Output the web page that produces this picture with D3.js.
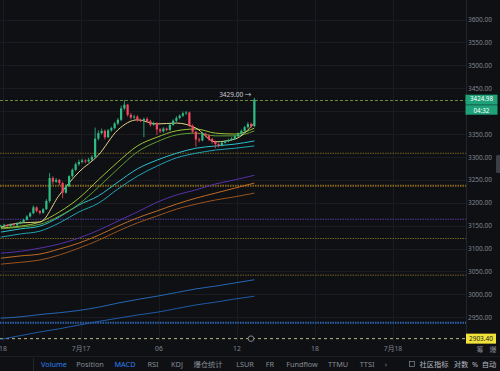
<!DOCTYPE html>
<html>
<head>
<meta charset="utf-8">
<script src="https://cdn.jsdelivr.net/npm/d3@7"></script>
<style>
html, body { margin: 0; padding: 0; background: #0f1014; overflow: hidden; }
text { font-family: "Noto Sans", "Noto Sans CJK SC", sans-serif; }
</style>
</head>
<body>
<svg id="canvas"></svg>
<script>
// 15m candles, first one opens 7/16 17:45
const candleStart = new Date(2025, 6, 16, 17, 45);
const opens = [3148, 3150, 3152, 3149, 3153, 3151, 3155, 3158, 3163, 3170, 3177, 3190, 3182, 3178, 3186, 3204, 3254, 3246, 3250, 3243,
  3222, 3236, 3258, 3272, 3284, 3289, 3292, 3290, 3294, 3300, 3340, 3352, 3357, 3343, 3358, 3363, 3373, 3381, 3406, 3414,
  3392, 3386, 3388, 3381, 3379, 3383, 3378, 3370, 3374, 3360, 3356, 3362, 3359, 3370, 3379, 3385, 3390, 3395, 3397, 3368,
  3355, 3338, 3336, 3351, 3347, 3339, 3333, 3328, 3325, 3331, 3334, 3337, 3340, 3345, 3350, 3357, 3365, 3372, 3367];
const highs = [3152, 3154, 3153, 3155, 3155, 3157, 3160, 3165, 3173, 3180, 3194, 3192, 3184, 3188, 3208, 3265, 3258, 3254, 3252, 3246,
  3240, 3260, 3275, 3288, 3294, 3296, 3295, 3298, 3304, 3364, 3358, 3362, 3360, 3361, 3366, 3376, 3385, 3412, 3424, 3416,
  3396, 3392, 3391, 3384, 3386, 3387, 3381, 3377, 3376, 3363, 3365, 3364, 3373, 3382, 3389, 3393, 3399, 3400, 3399, 3371,
  3357, 3342, 3354, 3353, 3349, 3342, 3336, 3330, 3334, 3337, 3340, 3343, 3348, 3353, 3360, 3368, 3376, 3375, 3429];
const lows = [3146, 3148, 3147, 3147, 3149, 3149, 3153, 3156, 3161, 3168, 3175, 3179, 3174, 3176, 3184, 3200, 3240, 3243, 3238, 3210,
  3220, 3234, 3255, 3269, 3281, 3286, 3286, 3288, 3291, 3298, 3336, 3349, 3338, 3341, 3355, 3360, 3370, 3378, 3402, 3388,
  3382, 3383, 3377, 3376, 3343, 3374, 3366, 3368, 3348, 3352, 3353, 3356, 3357, 3368, 3376, 3382, 3387, 3392, 3365, 3352,
  3322, 3332, 3334, 3343, 3335, 3329, 3319, 3321, 3323, 3329, 3332, 3335, 3338, 3343, 3348, 3355, 3362, 3364, 3366];
const closes = [3150, 3152, 3149, 3153, 3151, 3155, 3158, 3163, 3170, 3177, 3190, 3182, 3178, 3186, 3204, 3254, 3246, 3250, 3243, 3222,
  3236, 3258, 3272, 3284, 3289, 3292, 3290, 3294, 3300, 3340, 3352, 3357, 3343, 3358, 3363, 3373, 3381, 3406, 3414, 3392,
  3386, 3388, 3381, 3379, 3383, 3378, 3370, 3374, 3360, 3356, 3362, 3359, 3370, 3379, 3385, 3390, 3395, 3397, 3368, 3355,
  3338, 3336, 3351, 3347, 3339, 3333, 3328, 3325, 3331, 3334, 3337, 3340, 3345, 3350, 3357, 3365, 3372, 3367, 3424.98];

// moving averages, read at these candle indexes
const maIndex = [0, 6, 12, 18, 24, 30, 36, 42, 48, 54, 60, 66, 72, 78];
const maYellow = [3147, 3156, 3158, 3217, 3267, 3304, 3359, 3381, 3372, 3374, 3363, 3333, 3339, 3374];
const maGreen1 = [3145, 3149, 3158, 3180, 3210, 3250, 3289, 3324, 3343, 3357, 3361, 3352, 3350, 3363];
const maGreen2 = [3143, 3147, 3153, 3171, 3197, 3234, 3274, 3311, 3333, 3348, 3352, 3346, 3346, 3357];
const maCyan1 = [3136, 3143, 3149, 3169, 3195, 3215, 3245, 3274, 3293, 3308, 3319, 3324, 3328, 3335];
const maCyan2 = [3125, 3132, 3138, 3156, 3180, 3199, 3230, 3258, 3280, 3298, 3308, 3315, 3319, 3324];
const maPurple = [3090, 3094, 3101, 3110, 3123, 3140, 3160, 3180, 3201, 3217, 3228, 3241, 3250, 3260];
const maOrange1 = [3079, 3084, 3088, 3099, 3112, 3129, 3149, 3167, 3182, 3197, 3210, 3221, 3232, 3243];
const maOrange2 = [3066, 3070, 3075, 3086, 3101, 3118, 3138, 3156, 3171, 3186, 3197, 3206, 3213, 3221];
const maBlue1 = [2948, 2951, 2956, 2960, 2965, 2972, 2981, 2989, 2996, 3004, 3012, 3018, 3025, 3032];
const maBlue2 = [2902, 2910, 2918, 2925, 2933, 2941, 2948, 2955, 2961, 2969, 2977, 2983, 2990, 2996];

const levelPrices = [3308, 3237, 3164, 3122, 3042, 2938];
const gridTicks = [2950, 3000, 3050, 3100, 3150, 3200, 3250, 3300, 3350, 3400, 3450, 3500, 3550, 3600];
// 3400.00 sits under the last price label, so it is not printed
const priceTicks = [2950, 3000, 3050, 3100, 3150, 3200, 3250, 3300, 3350, 3450, 3500, 3550, 3600];
const timeTicks = [new Date(2025, 6, 16, 18), new Date(2025, 6, 17, 0), new Date(2025, 6, 17, 6),
  new Date(2025, 6, 17, 12), new Date(2025, 6, 17, 18), new Date(2025, 6, 18, 0)];
const timeLabels = ["18", "7月17", "06", "12", "18", "7月18"];
const lastPrice = 3424.98;
const countdown = "04:32";
const highMark = 3429.00;
const lowMark = 2903.40;
const toolbarLabels = ["Volume", "Position", "MACD", "RSI", "KDJ", "爆仓统计", "LSUR", "FR", "Fundflow", "TTMU", "TTSI", "›"];
const toolbarRight = ["社区指标", "对数", "%", "自动"];

const width = 500;
const height = 371;
const plotW = 466;
const plotH = 342;

const svg = d3.select("#canvas").attr("width", width).attr("height", height).attr("viewBox", `0 0 ${width} ${height}`);
svg.append("rect").attr("width", width).attr("height", height).attr("fill", "#0f1014");
svg.append("defs").append("clipPath").attr("id", "plotClip")
  .append("rect").attr("width", plotW).attr("height", plotH);

const xScale = d3.scaleTime()
  .domain([new Date(2025, 6, 16, 18), new Date(2025, 6, 18, 0)])
  .range([2.5, 392.5]);
const yScale = d3.scaleLinear().domain([2950, 3600]).range([317.3, 19.5]);

const candles = closes.map((c, i) => ({
  t: new Date(candleStart.getTime() + i * 15 * 60000 + 7.5 * 60000),
  o: opens[i], h: highs[i], l: lows[i], c: c
}));

const gridGroup = svg.append("g").classed("grid", true);
gridGroup.selectAll("line.h").data(gridTicks).join("line").classed("h", true)
  .attr("x1", 0).attr("x2", plotW)
  .attr("y1", d => Math.round(yScale(d)) + 0.5).attr("y2", d => Math.round(yScale(d)) + 0.5)
  .attr("stroke", "#1a1c22");
gridGroup.selectAll("line.v").data(timeTicks).join("line").classed("v", true)
  .attr("x1", d => Math.round(xScale(d)) + 0.5).attr("x2", d => Math.round(xScale(d)) + 0.5)
  .attr("y1", 0).attr("y2", plotH)
  .attr("stroke", "#1a1c22");

const mainGroup = svg.append("g").classed("mainGroup", true).attr("clip-path", "url(#plotClip)");

// horizontal levels
const levelStyle = [
  {color: "#75641f", w: 1},
  {color: "#86661a", w: 2},
  {color: "#55389c", w: 1},
  {color: "#75641f", w: 1},
  {color: "#75641f", w: 1},
  {color: "#2a62ae", w: 2}
];
mainGroup.selectAll("line.level").data(levelPrices).join("line").classed("level", true)
  .attr("x1", 0).attr("x2", plotW)
  .attr("y1", d => yScale(d)).attr("y2", d => yScale(d))
  .attr("stroke", (d, i) => levelStyle[i].color)
  .attr("stroke-width", (d, i) => levelStyle[i].w)
  .attr("stroke-dasharray", "1.5,1");

// low marker line
mainGroup.append("line")
  .attr("x1", 0).attr("x2", plotW)
  .attr("y1", yScale(lowMark)).attr("y2", yScale(lowMark))
  .attr("stroke", "#bdb889").attr("stroke-dasharray", "3,3");

// last price line
mainGroup.append("line")
  .attr("x1", 0).attr("x2", plotW)
  .attr("y1", Math.round(yScale(lastPrice)) + 0.5).attr("y2", Math.round(yScale(lastPrice)) + 0.5)
  .attr("stroke", "#6a8a44").attr("stroke-dasharray", "3,2");

// moving average lines
const maSeries = [
  {v: maBlue2, color: "#1f5aa6"},
  {v: maBlue1, color: "#2566b5"},
  {v: maOrange2, color: "#9a531c"},
  {v: maOrange1, color: "#c06a24"},
  {v: maPurple, color: "#5630a8"},
  {v: maCyan2, color: "#1fa3b3"},
  {v: maCyan1, color: "#2cc0cc"},
  {v: maGreen2, color: "#5f9c35"},
  {v: maGreen1, color: "#9cc23a"},
  {v: maYellow, color: "#e6d48a"}
];
const maLine = d3.line()
  .x((d, i) => xScale(candles[maIndex[i]].t))
  .y(d => yScale(d))
  .curve(d3.curveMonotoneX);
mainGroup.selectAll("path.ma").data(maSeries).join("path").classed("ma", true)
  .attr("d", d => maLine(d.v))
  .attr("fill", "none")
  .attr("stroke", d => d.color)
  .attr("stroke-width", 1);

// candles
const up = "#2ebd85", down = "#f6465d";
const candleG = mainGroup.selectAll("g.candle").data(candles).join("g").classed("candle", true);
candleG.append("line")
  .attr("x1", d => xScale(d.t)).attr("x2", d => xScale(d.t))
  .attr("y1", d => yScale(d.h)).attr("y2", d => yScale(d.l))
  .attr("stroke", d => d.c >= d.o ? up : down).attr("stroke-width", 0.8);
candleG.append("rect")
  .attr("x", d => xScale(d.t) - 1.1)
  .attr("width", 2.2)
  .attr("y", d => yScale(Math.max(d.o, d.c)))
  .attr("height", d => Math.max(0.8, Math.abs(yScale(d.o) - yScale(d.c))))
  .attr("fill", d => d.c >= d.o ? up : down);

// high marker text
const lastCandle = candles[candles.length - 1];
mainGroup.append("text")
  .attr("x", xScale(lastCandle.t) - 3)
  .attr("y", yScale(highMark) - 1)
  .attr("text-anchor", "end")
  .attr("fill", "#c9ccd2")
  .style("font-size", "6.5px")
  .text(d3.format(".2f")(highMark) + " →");

// low marker circle
svg.append("circle")
  .attr("cx", 251).attr("cy", yScale(lowMark)).attr("r", 2.8)
  .attr("fill", "#0f1014").attr("stroke", "#9a9ea6").attr("stroke-width", 0.8);

// price axis
svg.append("line").attr("x1", plotW + 0.5).attr("x2", plotW + 0.5).attr("y1", 0).attr("y2", plotH)
  .attr("stroke", "#22252c");
const yAxis = d3.axisRight(yScale).tickValues(priceTicks).tickFormat(d3.format(".2f")).tickSize(0);
svg.append("g").classed("yGroup", true)
  .attr("transform", `translate(${plotW}, 0)`)
  .call(yAxis)
  .call(g => g.select(".domain").remove())
  .call(g => g.selectAll("text")
    .attr("x", 26).attr("dy", "0.32em")
    .attr("text-anchor", "end")
    .attr("fill", "#80858e")
    .style("font-size", "6.5px")
    .style("font-family", "'Noto Sans', sans-serif"));

// last price and countdown labels
const yLast = yScale(lastPrice);
const labelG = svg.append("g").classed("labels", true);
labelG.append("rect").attr("x", plotW - 0.5).attr("y", yLast - 5).attr("width", 32).attr("height", 10)
  .attr("fill", "#1fa27a");
labelG.append("text").attr("x", plotW + 15.5).attr("y", yLast - 0.4).attr("dy", "0.34em")
  .attr("text-anchor", "middle").attr("fill", "#ffffff").style("font-size", "6.2px")
  .text(d3.format(".2f")(lastPrice));
labelG.append("rect").attr("x", plotW - 0.5).attr("y", yLast + 5.5).attr("width", 32).attr("height", 9.5)
  .attr("fill", "#1fa27a");
labelG.append("text").attr("x", plotW + 15.5).attr("y", yLast + 10.8).attr("dy", "0.34em")
  .attr("text-anchor", "middle").attr("fill", "#ffffff").style("font-size", "6.2px")
  .text(countdown);
const yLow = yScale(lowMark);
labelG.append("rect").attr("x", plotW).attr("y", yLow - 5).attr("width", 30).attr("height", 10)
  .attr("fill", "#f0e33a");
labelG.append("text").attr("x", plotW + 15).attr("y", yLow).attr("dy", "0.34em")
  .attr("text-anchor", "middle").attr("fill", "#1a1a1a").style("font-size", "6.5px")
  .text(d3.format(".2f")(lowMark));

// scroll handle
svg.append("rect").attr("x", 496).attr("y", 155).attr("width", 5).attr("height", 18).attr("rx", 1.5)
  .attr("fill", "#3a3e46");

// time axis
const xAxis = d3.axisBottom(xScale).tickValues(timeTicks).tickFormat((d, i) => timeLabels[i]).tickSize(0);
svg.append("g").classed("xGroup", true)
  .attr("transform", `translate(0, ${plotH})`)
  .call(xAxis)
  .call(g => g.select(".domain").remove())
  .call(g => g.selectAll("text")
    .attr("y", 4).attr("dy", "0.71em")
    .attr("fill", "#80858e")
    .style("font-size", "6.8px")
    .style("font-family", "'Noto Sans', 'Noto Sans CJK SC', sans-serif"));
svg.append("text").attr("x", 480).attr("y", 351.5).attr("text-anchor", "middle")
  .attr("fill", "#80858e").style("font-size", "7px").text("筹");
svg.append("text").attr("x", 493).attr("y", 351.5).attr("text-anchor", "middle")
  .attr("fill", "#80858e").style("font-size", "7px").text("爆");

// bottom toolbar
svg.append("line").attr("x1", 0).attr("x2", width).attr("y1", 356.5).attr("y2", 356.5).attr("stroke", "#1c1e24");
svg.append("line").attr("x1", 33.5).attr("x2", 33.5).attr("y1", 358).attr("y2", 371).attr("stroke", "#23262d");
const toolbarX = [54, 90, 125, 153, 177, 208, 245, 270, 302, 338, 367, 386];
const activeTools = ["Volume", "MACD"];
svg.append("g").classed("toolbar", true)
  .selectAll("text").data(toolbarLabels).join("text")
  .attr("x", (d, i) => toolbarX[i]).attr("y", 367)
  .attr("text-anchor", "middle")
  .attr("fill", d => activeTools.includes(d) ? "#2d7ff0" : "#868c95")
  .style("font-size", "7.3px")
  .text(d => d);
const toolbarRightX = [434, 461, 475, 489];
svg.append("rect").attr("x", 409.5).attr("y", 361.5).attr("width", 5).attr("height", 5)
  .attr("fill", "none").attr("stroke", "#868c95").attr("stroke-width", 0.7);
svg.append("g").classed("toolbarRight", true)
  .selectAll("text").data(toolbarRight).join("text")
  .attr("x", (d, i) => toolbarRightX[i]).attr("y", 367)
  .attr("text-anchor", "middle")
  .attr("fill", "#b4b9c1")
  .style("font-size", "7.3px")
  .text(d => d);
</script>
</body>
</html>
